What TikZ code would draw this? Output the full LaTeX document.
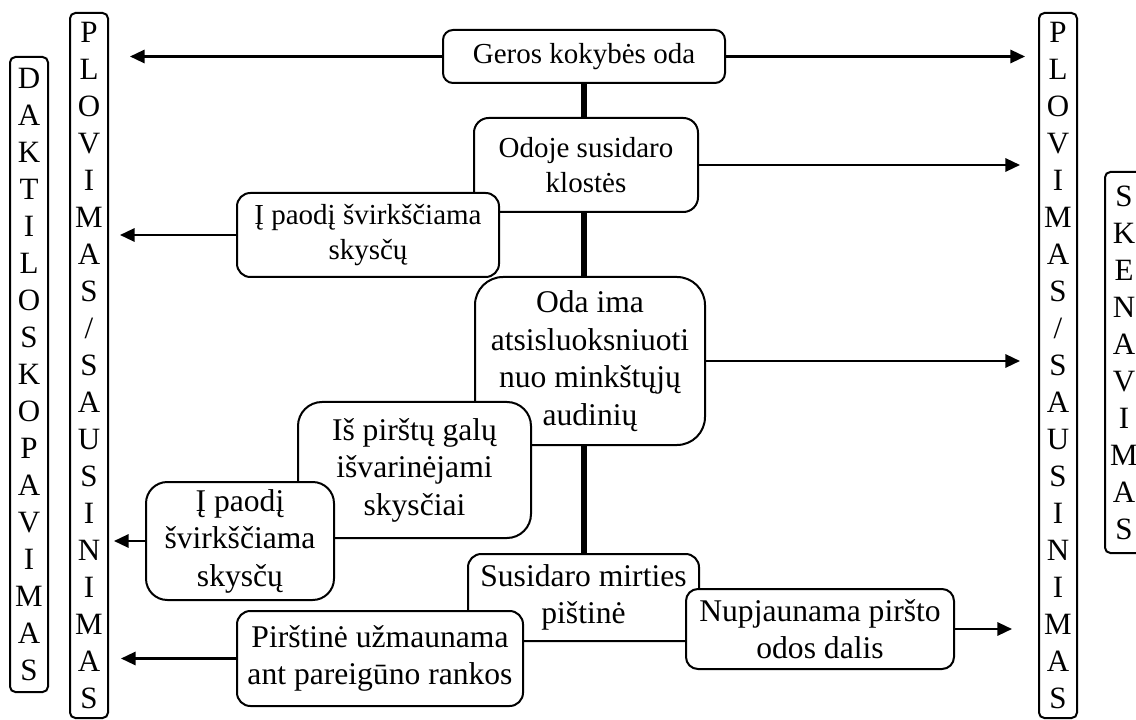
\documentclass[tikz,border=0pt]{standalone}
\usepackage{fontspec}
\setmainfont{Liberation Serif}
\usetikzlibrary{arrows.meta,backgrounds}
\begin{document}
\begin{tikzpicture}[x=0.75pt,y=-0.75pt,
  box/.style={draw,line width=1.5pt,fill=white,align=center,inner sep=0pt},
  fa/.style={font=\fontsize{21.75}{26.25}\selectfont},
  fb/.style={font=\fontsize{23.7}{28.1}\selectfont},
  col/.style={draw,line width=1.5pt,fill=white,align=center,inner sep=0pt,rounded corners=4pt,minimum width=28.5pt,font=\fontsize{23.25}{27.75}\selectfont},
  arr/.style={line width=1.7pt,-{Triangle[length=11pt,width=10pt]}},
  spine/.style={line width=4.5pt}]
\useasboundingbox (0,0) rectangle (1136,720);

% side columns
\node[col,minimum height=476.25pt] (dakt) at (29,374.5) {D\\A\\K\\T\\I\\L\\O\\S\\K\\O\\P\\A\\V\\I\\M\\A\\S};
\node[col,minimum height=528.75pt] (plovL) at (89,365.5) {P\\L\\O\\V\\I\\M\\A\\S\\/\\S\\A\\U\\S\\I\\N\\I\\M\\A\\S};
\node[col,minimum height=528.75pt] (plovR) at (1058,365.5) {P\\L\\O\\V\\I\\M\\A\\S\\/\\S\\A\\U\\S\\I\\N\\I\\M\\A\\S};
\node[col,minimum height=285.75pt] (sken) at (1124,362.5) {S\\K\\E\\N\\A\\V\\I\\M\\A\\S};

% central boxes
\node[box,fa,minimum width=211.5pt,minimum height=39.75pt,rounded corners=7.5pt] (geros) at (584,56.5) {Geros kokybės oda};
\node[box,fa,minimum width=168pt,minimum height=70.5pt,rounded corners=11pt] (odoje) at (586,165) {Odoje susidaro\\klostės};
\node[box,fa,minimum width=196.5pt,minimum height=63pt,rounded corners=10pt] (paodi1) at (368,235) {Į paodį švirkščiama\\skysčų};
\node[box,fb,minimum width=172.5pt,minimum height=126pt,rounded corners=21pt] (odaima) at (590,361) {Oda ima\\atsisluoksniuoti\\nuo minkštųjų\\audinių};
\node[box,fb,minimum width=174.75pt,minimum height=102pt,rounded corners=18pt] (ispirstu) at (414.5,470) {Iš pirštų galų\\išvarinėjami\\skysčiai};
\node[box,fb,minimum width=141pt,minimum height=88.5pt,rounded corners=16pt] (paodi2) at (240,541) {Į paodį\\švirkščiama\\skysčų};
\node[box,fb,minimum width=173.25pt,minimum height=65.25pt,rounded corners=10pt] (susidaro) at (583.5,597.5) {Susidaro mirties\\pištinė};
\node[box,fb,minimum width=214.5pt,minimum height=71.25pt,rounded corners=10pt] (pirstine) at (380,658.5) {Pirštinė užmaunama\\ant pareigūno rankos};
\node[box,fb,minimum width=201pt,minimum height=60pt,rounded corners=9pt] (nupjauna) at (820,629) {Nupjaunama piršto\\odos dalis};

% spine
\begin{pgfonlayer}{background}
\draw[spine] (geros.south) -- (geros.south |- susidaro.north);
\end{pgfonlayer}

% arrow tips
\coordinate (tl) at (130,56.5);
\coordinate (tr) at (1025,56.5);
\coordinate (t2) at (1020,165);
\coordinate (t3) at (120,235);
\coordinate (t4) at (1020,361);
\coordinate (t5) at (114,541);
\coordinate (t6) at (121,658.5);
\coordinate (t7) at (1012,629);

\draw[arr] (geros.west) -- (tl);
\draw[arr] (geros.east) -- (tr);
\draw[arr] (odoje.east) -- (t2);
\draw[arr] (paodi1.west) -- (t3);
\draw[arr] (odaima.east) -- (t4);
\draw[arr] (paodi2.west) -- (t5);
\draw[arr] (pirstine.west) -- (t6);
\draw[arr] (nupjauna.east) -- (t7);
\end{tikzpicture}
\end{document}
